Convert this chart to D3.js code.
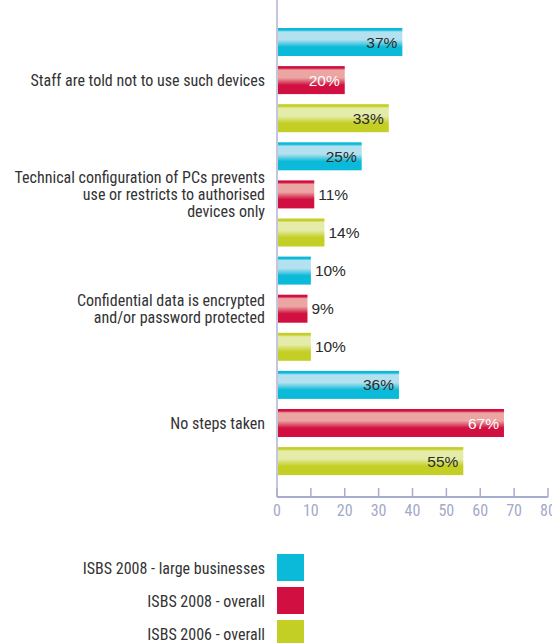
<!DOCTYPE html>
<html><head><meta charset="utf-8">
<script src="https://cdn.jsdelivr.net/npm/d3@7"></script>
<style>
html,body{margin:0;padding:0;background:#fff;}
svg{display:block;}
</style></head>
<body>
<script>
const categories = [
  ["Staff are told not to use such devices"],
  ["Technical configuration of PCs prevents","use or restricts to authorised","devices only"],
  ["Confidential data is encrypted","and/or password protected"],
  ["No steps taken"]
];
const seriesNames = ["ISBS 2008 - large businesses","ISBS 2008 - overall","ISBS 2006 - overall"];
const large2008 = [37, 25, 10, 36];
const overall2008 = [20, 11, 9, 67];
const overall2006 = [33, 14, 10, 55];
const tickValues = [0,10,20,30,40,50,60,70,80];

const series = [large2008, overall2008, overall2006];
const baseColors = ["#0abad8","#d10f40","#c3cf24"];
const lightColors = ["#b4e1ef","#eba5a2","#e5ecaa"];
const labelColors = ["#2a2a2a","#ffffff","#2a2a2a"];

const W = 552, H = 643;
const svg = d3.select("body").append("svg").attr("width",W).attr("height",H);
const labelFont = "'Liberation Sans Narrow','Arial Narrow','Roboto Condensed',sans-serif";
const valueFont = "'Liberation Sans',Arial,sans-serif";

const x = d3.scaleLinear().domain([0,80]).range([277,548]);
const rows = [];
categories.forEach((c,i)=>series.forEach((s,j)=>rows.push({cat:i,ser:j,v:s[i]})));
const y = d3.scaleBand().domain(d3.range(rows.length)).range([28, 475.1]).paddingInner(0.265).paddingOuter(0);

const defs = svg.append("defs");
baseColors.forEach((c,j)=>{
  const g = defs.append("linearGradient").attr("id","g"+j).attr("x1",0).attr("y1",0).attr("x2",0).attr("y2",1);
  const stops = [[0,c],[0.07,c],[0.14,lightColors[j]],[0.42,lightColors[j]],[0.55,d3.interpolateRgb(lightColors[j],c)(0.5)],[0.68,c],[1,c]];
  stops.forEach(s=>g.append("stop").attr("offset",s[0]).attr("stop-color",s[1]));
});

// vertical axis line
svg.append("line").attr("x1",x(0)).attr("x2",x(0)).attr("y1",0).attr("y2",497)
  .attr("stroke","#c3c6dd").attr("stroke-width",2);

// bars
svg.selectAll("rect.bar").data(rows).enter().append("rect").attr("class","bar")
  .attr("x",x(0)+1).attr("y",(d,i)=>y(i)).attr("width",d=>x(d.v)-x(0)-1).attr("height",y.bandwidth())
  .attr("fill",d=>"url(#g"+d.ser+")");

// value labels
svg.selectAll("text.val").data(rows).enter().append("text").attr("class","val")
  .attr("x",d=> d.v>=20 ? x(d.v)-5 : x(d.v)+4)
  .attr("y",(d,i)=>y(i)+y.bandwidth()/2)
  .attr("dy","0.36em")
  .attr("text-anchor",d=> d.v>=20 ? "end":"start")
  .attr("font-family",valueFont).attr("font-size",15.5)
  .attr("fill",d=> d.v>=20 ? labelColors[d.ser] : "#2a2a2a")
  .text(d=>d.v+"%");

// category labels
categories.forEach((lines,i)=>{
  const idx = i*3+1;
  const cy = y(idx)+y.bandwidth()/2;
  const lh = 17;
  const t = svg.append("text").attr("text-anchor","end").attr("font-family",labelFont)
    .attr("font-size",16).attr("fill","#333");
  lines.forEach((l,k)=>{
    t.append("tspan").attr("x",265).attr("y",cy + (k-(lines.length-1)/2)*lh).attr("dy","0.35em").text(l);
  });
});

// x axis
const ax = svg.append("g").attr("transform","translate(0,497)");
ax.append("line").attr("x1",x(0)).attr("x2",x(80)).attr("y1",0).attr("y2",0).attr("stroke","#a7add0").attr("stroke-width",2);
ax.selectAll("line.tk").data(tickValues).enter().append("line").attr("class","tk")
  .attr("x1",d=>x(d)).attr("x2",d=>x(d)).attr("y1",0).attr("y2",-9).attr("stroke","#a7add0").attr("stroke-width",1.5);
ax.selectAll("text.tl").data(tickValues).enter().append("text").attr("class","tl")
  .attr("x",d=>x(d)).attr("y",13).attr("dy","0.35em").attr("text-anchor","middle")
  .attr("font-family",labelFont).attr("font-size",16).attr("fill","#a3a9c9").text(d=>d);

// legend
seriesNames.forEach((n,j)=>{
  const ly = 554 + j*33;
  svg.append("rect").attr("x",277).attr("y",ly).attr("width",27).attr("height",27).attr("fill",baseColors[j]);
  svg.append("text").attr("x",265).attr("y",ly+14).attr("dy","0.35em").attr("text-anchor","end")
    .attr("font-family",labelFont).attr("font-size",16).attr("fill","#333").text(n);
});
</script>
</body></html>
